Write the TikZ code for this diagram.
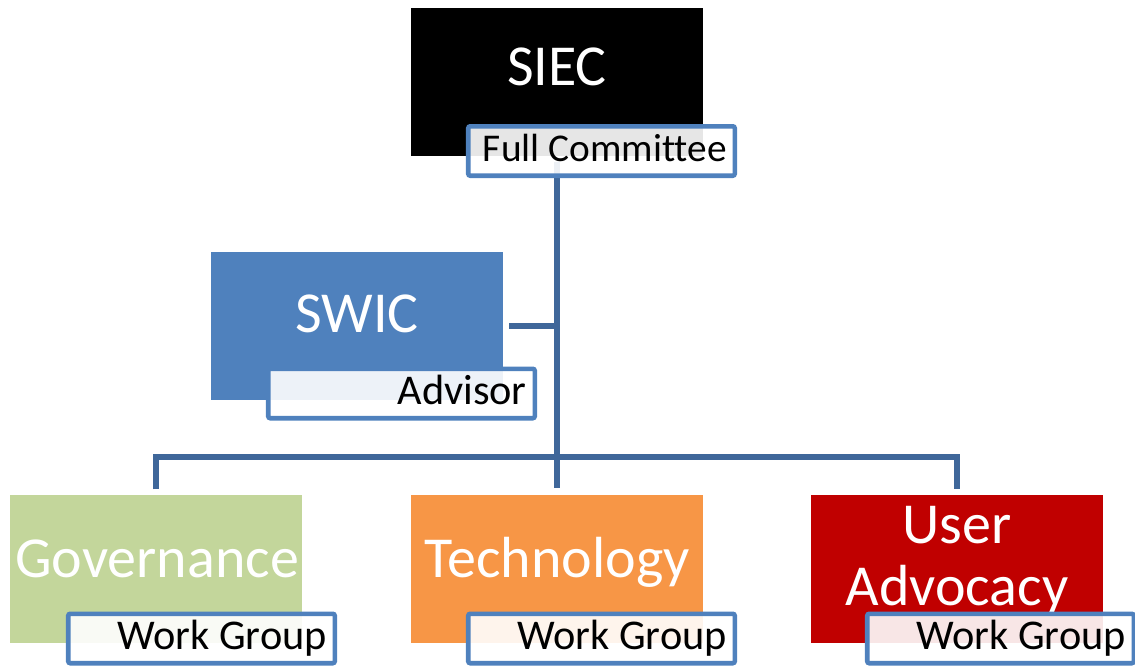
\documentclass[tikz,border=0pt]{standalone}
\usepackage{fontspec}
\setmainfont{Carlito}[Ligatures=NoCommon]
\usepackage{tikz}
\usetikzlibrary{backgrounds}
\definecolor{swicblue}{HTML}{4F81BD}
\definecolor{govgreen}{HTML}{C3D69B}
\definecolor{techorange}{HTML}{F79646}
\definecolor{userred}{HTML}{C00000}
\definecolor{tagblue}{HTML}{4F81BD}
\definecolor{linkblue}{HTML}{3F679A}
\newcommand{\tagline}[1]{\makebox[187.9pt][r]{#1}}

\begin{document}
\begin{tikzpicture}[x=0.75pt,y=-0.75pt,
	orgbox/.style={rectangle,minimum width=219pt,minimum height=111pt,inner sep=0pt},
	orgtext/.style={text=white,font=\fontsize{43.5}{46.5}\selectfont,align=center,inner sep=0pt,anchor=base},
	tagbox/.style={rectangle,rounded corners=1.5pt,draw=tagblue,line width=3.4pt,fill=white,fill opacity=0.9,text opacity=1,
		minimum width=199.9pt,minimum height=37.1pt,inner xsep=6pt,inner ysep=0pt,
		font=\fontsize{31.75}{34}\selectfont,text height=20.5pt,text depth=4.7pt},
	link/.style={draw=linkblue,line width=4.1pt}]
			\useasboundingbox (0,0) rectangle (1135,667);
			% top committee
			\node [orgbox,fill=black] (siec) at (557,82) {};
			\node [orgtext] (siec text) at (557,86) {SIEC};
			\node [tagbox,font=\fontsize{29.5}{34}\selectfont] (siec tag) at (601.5,151) {\tagline{Full Committee}};
			% advisor
			\node [orgbox,fill=swicblue] (swic) at (356.5,326) {};
			\node [orgtext] (swic text) at (357,332) {SWIC};
			\node [tagbox] (swic tag) at (401.5,393.5) {\tagline{Advisor}};
			% work groups
			\node [orgbox,fill=govgreen] (gov) at (156,569) {};
			\node [orgtext] (gov text) at (157,577) {Governance};
			\node [tagbox] (gov tag) at (201.5,638.5) {\tagline{Work Group}};
			\node [orgbox,fill=techorange] (tech) at (557,569) {};
			\node [orgtext] (tech text) at (557,577) {Technology};
			\node [tagbox] (tech tag) at (601.5,638.5) {\tagline{Work Group}};
			\node [orgbox,fill=userred] (user) at (957,569) {};
			\node [orgtext] (user text) at (957,605) {User\\Advocacy};
			\node [tagbox] (user tag) at (1000.5,638.5) {\tagline{Work Group}};
			% connectors
			\begin{scope}[on background layer]
			\coordinate (bus) at (557,457);
			\draw [link,shorten <=4pt,shorten >=5pt] (siec.south) -- (tech.north);
			\draw [link,shorten <=4pt,shorten >=4pt] (gov.north) |- (bus) -| (user.north);
			\draw [link,shorten <=5pt] (swic.east) -- (swic.east -| bus);
			\end{scope}
\end{tikzpicture}
\end{document}
